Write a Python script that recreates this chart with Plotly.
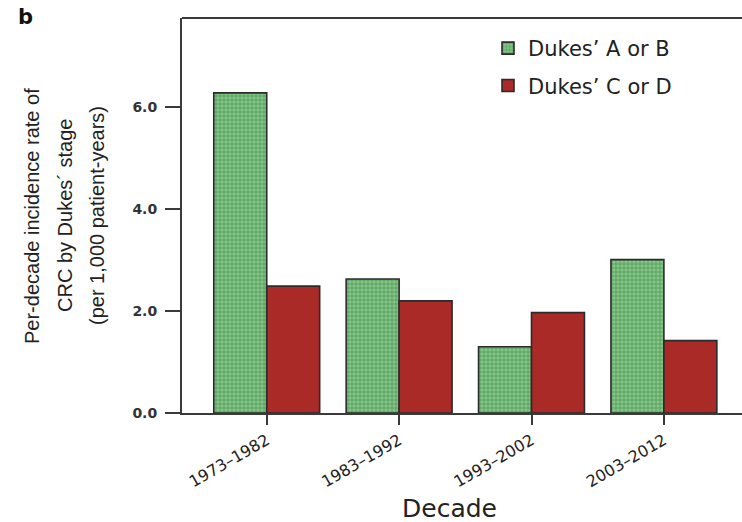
import plotly.graph_objects as go

# Per-decade incidence of colorectal cancer by Dukes' stage (per 1,000 patient-years)
decades = ["1973–1982", "1983–1992", "1993–2002", "2003–2012"]
dukes_ab = [6.28, 2.63, 1.30, 3.01]
dukes_cd = [2.49, 2.20, 1.97, 1.42]
y_ticks = [0, 2, 4, 6]
y_tick_labels = ["0.0", "2.0", "4.0", "6.0"]
y_title_lines = [
    "Per-decade incidence rate of",
    "CRC by Dukes´ stage",
    "(per 1,000 patient-years)",
]

WIDE = "DejaVu Sans, Verdana, sans-serif"
NARROW = "Liberation Sans, Arial, Helvetica, sans-serif"
EDGE = "#2b2b2b"
AXIS = "#3a3a3a"
TEXT = "#222"

# plotting frame in pixels (left, top, bottom)
L, T, B, W, H = 182, 18, 413, 742, 522
pw, ph = W - L, B - T


def px_to_paper(x, y):
    return (x - L) / pw, (B - y) / ph


fig = go.Figure()
fig.add_trace(go.Bar(
    x=decades, y=dukes_ab, name="Dukes’ A or B",
    legendgroup="ab",
    marker=dict(
        color="#7fc482",
        line=dict(color=EDGE, width=1.6),
        pattern=dict(shape="+", fgcolor="#3f7f46", bgcolor="#82c685",
                     size=4, solidity=0.3, fgopacity=0.8),
    ),
))
fig.add_trace(go.Bar(
    x=decades, y=dukes_cd, name="Dukes’ C or D",
    legendgroup="cd",
    marker=dict(color="#a92a27", line=dict(color=EDGE, width=1.6)),
))

lx, ly = px_to_paper(488, 28)
fig.update_layout(
    width=W, height=H,
    margin=dict(l=L, r=0, t=T, b=H - B),
    paper_bgcolor="white", plot_bgcolor="white",
    barmode="group", bargap=0.2, bargroupgap=0,
    font=dict(family=WIDE, color=TEXT),
    showlegend=True,
    legend=dict(
        x=lx, y=ly, xanchor="left", yanchor="top",
        font=dict(size=21, color=TEXT, family=WIDE),
        traceorder="grouped", tracegroupgap=7,
        bgcolor="rgba(0,0,0,0)",
    ),
    xaxis=dict(
        range=[-0.64, 3.59],
        showline=True, linecolor=AXIS, linewidth=2,
        ticks="outside", ticklen=10, tickwidth=1.5, tickcolor=AXIS,
        tickangle=-30, tickfont=dict(size=16, color=TEXT, family=WIDE),
        showgrid=False, zeroline=False,
    ),
    yaxis=dict(
        range=[0, 7.75],
        tickvals=y_ticks, ticktext=y_tick_labels,
        showline=True, linecolor=AXIS, linewidth=2,
        ticks="outside", ticklen=15, tickwidth=1.5, tickcolor=AXIS,
        ticklabelstandoff=5,
        tickfont=dict(size=14, color="#333", family=WIDE, weight="bold"),
        showgrid=False, zeroline=False,
    ),
)

# top border of the plotting frame
fig.add_shape(type="line", xref="paper", yref="paper",
              x0=0, x1=1, y0=1, y1=1,
              line=dict(color=AXIS, width=2))

# y-axis title, one rotated annotation per line
for line, xc in zip(y_title_lines, [32, 65, 97]):
    ax, ay = px_to_paper(xc, 216)
    fig.add_annotation(
        text=line, xref="paper", yref="paper", x=ax, y=ay,
        xanchor="center", yanchor="middle",
        textangle=-90, showarrow=False,
        font=dict(size=20, color=TEXT, family=NARROW),
    )

# x-axis title
dx, dy = px_to_paper(449, 508)
fig.add_annotation(
    text="Decade", xref="paper", yref="paper", x=dx, y=dy,
    xanchor="center", yanchor="middle",
    showarrow=False, font=dict(size=25, color=TEXT, family=WIDE),
)

# panel letter
bx, by = px_to_paper(25, 17)
fig.add_annotation(
    text="<b>b</b>", xref="paper", yref="paper", x=bx, y=by,
    xanchor="center", yanchor="middle",
    showarrow=False, font=dict(size=21, color="#111", family=WIDE),
)

fig.write_html("out.html")
